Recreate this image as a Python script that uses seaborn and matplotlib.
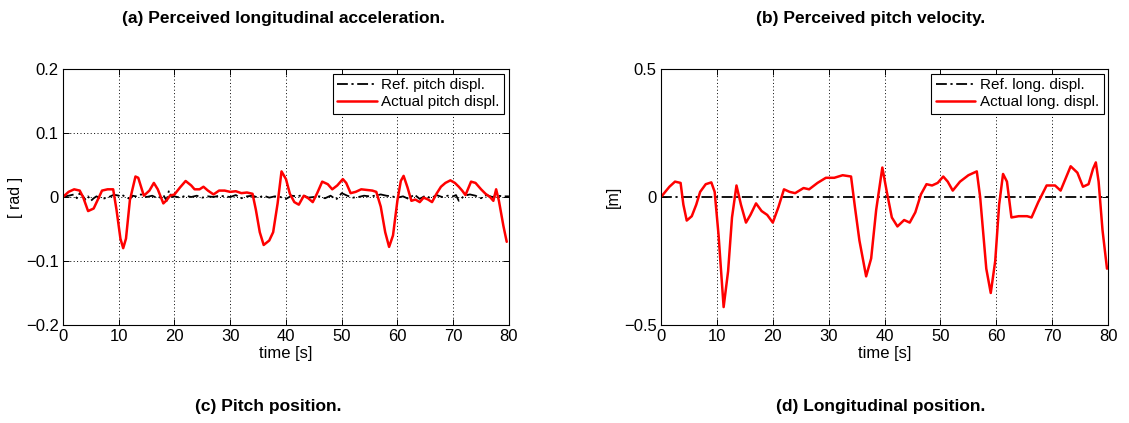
import numpy as np
import pandas as pd
import matplotlib
matplotlib.use("Agg")
import matplotlib.pyplot as plt
import seaborn as sns

# pitch panel (left)
pitch_t = [0, 1, 2, 3, 3.6, 4.5, 5.5, 6.2, 7, 8, 9, 9.6, 10.3, 10.8, 11.3, 12, 13, 13.5, 14.5,
           15.5, 16.3, 17, 18, 18.6, 19.2, 20, 21, 22, 23, 23.6, 24.5, 25.2, 26, 27, 28, 29, 30,
           31, 32, 33, 34, 34.6, 35.3, 36, 37, 37.7, 38.5, 39.2, 40, 40.7, 41.5, 42.3, 43.2, 44,
           44.8, 45.6, 46.5, 47.5, 48.3, 49.2, 50.2, 50.8, 51.6, 52.5, 53.5, 54.5, 55.5, 56.2,
           57, 57.8, 58.5, 59.2, 60, 60.6, 61.1, 61.8, 62.5, 63.2, 64, 64.7, 65.5, 66.2, 67,
           67.8, 68.6, 69.5, 70.3, 71, 71.6, 72.2, 73.2, 74, 75, 75.8, 76.6, 77.2, 77.7, 78.2,
           79, 79.6]
pitch_actual = [0.0, 0.008, 0.012, 0.010, 0.0, -0.022, -0.018, -0.005, 0.010, 0.012, 0.012,
                -0.020, -0.065, -0.080, -0.065, -0.005, 0.032, 0.030, 0.002, 0.010, 0.022,
                0.012, -0.010, -0.005, 0.002, 0.004, 0.015, 0.025, 0.018, 0.012, 0.012, 0.016,
                0.010, 0.004, 0.010, 0.010, 0.008, 0.009, 0.006, 0.007, 0.005, -0.020, -0.055,
                -0.075, -0.068, -0.055, -0.010, 0.040, 0.028, 0.005, -0.008, -0.012, 0.002,
                -0.002, -0.008, 0.006, 0.024, 0.020, 0.012, 0.018, 0.028, 0.022, 0.006, 0.008,
                0.012, 0.011, 0.010, 0.008, -0.015, -0.055, -0.078, -0.060, -0.005, 0.025,
                0.033, 0.015, -0.006, -0.004, -0.008, -0.001, -0.004, -0.008, 0.005, 0.016,
                0.022, 0.026, 0.022, 0.016, 0.010, 0.003, 0.024, 0.022, 0.012, 0.005, 0.000,
                -0.006, 0.012, -0.006, -0.045, -0.070]
pitch_ref_t = [0, 1, 2, 2.5, 3, 3.5, 4, 4.5, 5, 5.5, 6, 7, 8, 9, 9.5, 10, 10.5, 11, 12, 12.5,
               13, 14, 15, 16, 17, 18, 18.6, 19, 19.5, 20, 21, 22, 23, 24, 25, 26, 27, 28, 29,
               30, 31, 32, 33, 34, 35, 36, 37, 38, 39, 40, 41, 42, 43, 44, 45, 46, 47, 48, 49,
               50, 51, 52, 53, 54, 55, 56, 57, 58, 59, 60, 61, 62, 63, 64, 65, 66, 67, 68, 69,
               70, 70.5, 71, 72, 73, 74, 75, 76, 77, 78, 79, 80]
pitch_ref = [0.0, 0.002, 0.004, -0.002, 0.006, 0.002, -0.004, 0.001, -0.006, -0.002, 0.001,
             -0.003, -0.001, 0.003, 0.003, 0.002, 0.004, 0.001, -0.003, 0.002, 0.001, 0.004,
             0.000, 0.002, -0.002, 0.003, -0.006, 0.010, 0.000, 0.001, -0.001, 0.002, 0.000,
             0.002, -0.001, 0.001, 0.000, 0.002, 0.001, 0.000, 0.003, -0.002, 0.001, 0.002,
             -0.001, 0.002, -0.001, 0.001, 0.000, -0.003, 0.002, 0.001, 0.003, -0.001, 0.000,
             0.001, -0.002, 0.002, -0.004, 0.006, 0.002, -0.001, 0.000, 0.002, 0.001, 0.002,
             0.004, 0.002, 0.001, -0.001, 0.001, -0.003, 0.004, -0.003, 0.002, -0.002, 0.003,
             0.000, 0.002, 0.001, 0.003, -0.006, 0.002, 0.004, 0.002, -0.002, 0.003, 0.000,
             0.002, 0.001, 0.001]

# longitudinal panel (right)
long_t = [0, 1.5, 2.5, 3.5, 4.0, 4.6, 5.5, 6.3, 7, 8, 9, 9.6, 10.3, 11.2, 12, 12.7, 13.5, 14.3,
          15.2, 16, 17, 18, 19, 20, 21, 22, 23, 24, 25.5, 26.5, 28, 29.5, 31, 32.5, 34, 34.7,
          35.5, 36.7, 37.6, 38.5, 39.6, 40.4, 41.3, 42.3, 43.5, 44.5, 45.5, 46.5, 47.5, 48.5,
          49.5, 50.5, 51.3, 52.2, 53.5, 55, 56.5, 57.1, 58.2, 59, 59.8, 60.5, 61.2, 61.9, 62.7,
          64, 65.5, 66.3, 67.5, 69, 70.5, 71.5, 73.3, 74.5, 75.5, 76.5, 77.3, 77.8, 78.3, 79,
          79.8]
long_actual = [0.0, 0.040, 0.060, 0.055, -0.030, -0.092, -0.075, -0.030, 0.020, 0.050, 0.057,
               0.020, -0.150, -0.430, -0.290, -0.080, 0.045, -0.030, -0.100, -0.070, -0.025,
               -0.055, -0.070, -0.100, -0.040, 0.030, 0.020, 0.015, 0.035, 0.030, 0.055, 0.075,
               0.075, 0.085, 0.080, -0.040, -0.170, -0.310, -0.240, -0.050, 0.115, 0.020,
               -0.080, -0.115, -0.090, -0.100, -0.060, 0.010, 0.050, 0.045, 0.055, 0.080,
               0.060, 0.025, 0.060, 0.085, 0.100, 0.000, -0.280, -0.375, -0.250, -0.030,
               0.090, 0.060, -0.080, -0.075, -0.075, -0.080, -0.020, 0.045, 0.045, 0.025,
               0.120, 0.095, 0.040, 0.050, 0.110, 0.135, 0.060, -0.130, -0.280]
long_ref_t = [0, 80]
long_ref = [0.0, 0.0]

titles_top = ["(a) Perceived longitudinal acceleration.", "(b) Perceived pitch velocity."]
titles_bottom = ["(c) Pitch position.", "(d) Longitudinal position."]

sns.set_style("white")
plt.rcParams["font.family"] = ["Liberation Sans", "DejaVu Sans"]
plt.rcParams["text.color"] = "black"
plt.rcParams["axes.labelcolor"] = "black"

fig = plt.figure(figsize=(11.29, 4.23), dpi=100)
ax1 = fig.add_axes([0.0558, 0.2317, 0.395, 0.6052])
ax2 = fig.add_axes([0.5855, 0.2317, 0.396, 0.6052])

df_pa = pd.DataFrame({"t": pitch_t, "v": pitch_actual})
df_pr = pd.DataFrame({"t": pitch_ref_t, "v": pitch_ref})
df_la = pd.DataFrame({"t": long_t, "v": long_actual})
df_lr = pd.DataFrame({"t": long_ref_t, "v": long_ref})

dashdot = (0, (6, 2, 1.2, 2))
sns.lineplot(data=df_pr, x="t", y="v", ax=ax1, color="black", lw=1.3,
             linestyle=dashdot, label="Ref. pitch displ.")
sns.lineplot(data=df_pa, x="t", y="v", ax=ax1, color="red", lw=1.8,
             label="Actual pitch displ.")
sns.lineplot(data=df_lr, x="t", y="v", ax=ax2, color="black", lw=1.3,
             linestyle=dashdot, label="Ref. long. displ.")
sns.lineplot(data=df_la, x="t", y="v", ax=ax2, color="red", lw=1.8,
             label="Actual long. displ.")

ax1.set_ylim(-0.2, 0.2)
ax1.set_yticks([-0.2, -0.1, 0, 0.1, 0.2])
ax1.set_yticklabels(["\u22120.2", "\u22120.1", "0", "0.1", "0.2"])
ax1.set_ylabel("[ rad ]", fontsize=11.5, labelpad=2)
ax2.set_ylim(-0.5, 0.5)
ax2.set_yticks([-0.5, 0, 0.5])
ax2.set_yticklabels(["\u22120.5", "0", "0.5"])
ax2.set_ylabel("[m]", fontsize=11.5, labelpad=2)

for ax in (ax1, ax2):
    ax.set_xlim(0, 80)
    ax.set_xticks(range(0, 81, 10))
    ax.set_xlabel("time [s]", fontsize=12, labelpad=1)
    ax.tick_params(direction="in", length=4, width=0.7, labelsize=12, pad=3,
                   top=True, right=True, bottom=True, left=True, colors="black")
    for s in ax.spines.values():
        s.set_color("black")
        s.set_linewidth(0.8)
    ax.grid(False)
    ax.xaxis.grid(True, linestyle=(0, (1, 2.5)), color="black", lw=0.7)
    leg = ax.legend(loc="upper right", fontsize=11, fancybox=False, framealpha=1,
                    edgecolor="black", borderpad=0.3, handlelength=2.6, labelspacing=0.2,
                    handletextpad=0.3, borderaxespad=0.3)
    leg.get_frame().set_linewidth(0.8)

ax1.yaxis.grid(True, linestyle=(0, (1, 2.5)), color="black", lw=0.7)

for x, t in zip([0.251, 0.771], titles_top):
    fig.text(x, 0.957, t, ha="center", va="center", fontsize=12.5, fontweight="bold")
for x, t in zip([0.238, 0.780], titles_bottom):
    fig.text(x, 0.038, t, ha="center", va="center", fontsize=12.5, fontweight="bold")

fig.savefig("out.png", dpi=100)
